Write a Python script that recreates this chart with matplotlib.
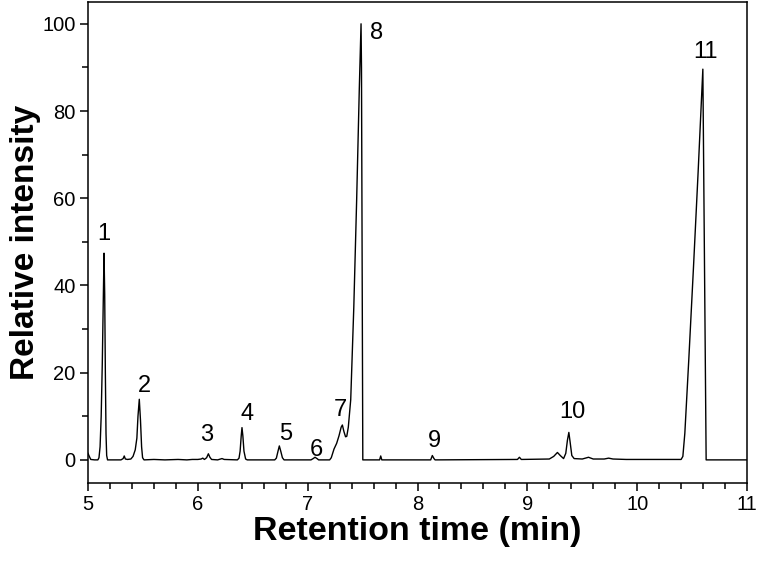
import matplotlib
matplotlib.use("Agg")
import matplotlib.pyplot as plt
from matplotlib.ticker import MultipleLocator

plt.rcParams['font.family'] = ['Liberation Sans', 'DejaVu Sans']

# Chromatogram trace (retention time in min, relative intensity)
time_min = [
    5.00, 5.01, 5.025, 5.06, 5.09, 5.10, 5.11, 5.12, 5.13, 5.14, 5.146, 5.152, 5.158, 5.164, 5.170, 5.178,
    5.30, 5.32, 5.33, 5.34, 5.36, 5.39, 5.41, 5.43, 5.445, 5.455, 5.467, 5.478, 5.488, 5.497, 5.51,
    5.60, 5.70, 5.82, 5.90, 5.95, 6.00, 6.03, 6.045, 6.06, 6.08, 6.096, 6.11, 6.125, 6.18, 6.22, 6.24,
    6.36, 6.375, 6.385, 6.395, 6.402, 6.41, 6.42, 6.435, 6.45,
    6.70, 6.715, 6.73, 6.742, 6.755, 6.77, 6.785,
    7.03, 7.05, 7.067, 7.085, 7.10,
    7.20, 7.215, 7.24, 7.264, 7.285, 7.305, 7.316, 7.33, 7.345, 7.356, 7.37, 7.392, 7.42, 7.446, 7.47,
    7.486, 7.49, 7.502,
    7.655, 7.665, 7.675, 8.12, 8.135, 8.15, 8.16,
    8.91, 8.928, 8.945, 9.20, 9.24, 9.274, 9.30, 9.33, 9.35, 9.365, 9.378, 9.39, 9.405, 9.426,
    9.50, 9.557, 9.60, 9.70, 9.74, 9.78, 9.90,
    10.40, 10.416, 10.434, 10.47, 10.513, 10.555, 10.598, 10.628, 11.0,
]
intensity = [
    1.5, 0.9, 0.1, 0.0, 0.0, 0.5, 3.0, 10.0, 22.0, 38.0, 47.4, 38.0, 20.0, 6.0, 1.0, 0.0,
    0.0, 0.3, 0.9, 0.2, 0.1, 0.2, 0.8, 2.3, 5.0, 10.0, 13.9, 9.0, 3.0, 0.5, 0.0,
    0.1, 0.0, 0.1, 0.0, 0.1, 0.1, 0.2, 0.4, 0.1, 0.5, 1.4, 0.6, 0.1, 0.0, 0.3, 0.1,
    0.0, 0.4, 2.0, 5.5, 7.4, 5.5, 2.0, 0.2, 0.0,
    0.0, 0.4, 2.0, 3.2, 2.0, 0.5, 0.0,
    0.0, 0.3, 0.6, 0.3, 0.0,
    0.0, 0.5, 2.5, 3.8, 5.5, 7.5, 8.0, 6.5, 5.3, 5.4, 7.5, 13.8, 35.0, 59.6, 85.0,
    100.0, 90.0, 0.0,
    0.0, 0.9, 0.0, 0.0, 1.0, 0.3, 0.0,
    0.1, 0.6, 0.1, 0.2, 0.8, 1.7, 1.0, 0.3, 1.5, 4.5, 6.3, 4.0, 1.0, 0.3,
    0.2, 0.6, 0.2, 0.2, 0.4, 0.2, 0.1,
    0.1, 0.8, 6.1, 23.0, 44.3, 66.0, 89.6, 0.0, 0.0,
]

# Peak labels and their positions
peak_labels = ["1", "2", "3", "4", "5", "6", "7", "8", "9", "10", "11"]
label_x = [5.146, 5.51, 6.08, 6.45, 6.80, 7.08, 7.30, 7.63, 8.15, 9.41, 10.62]
label_y = [51.8, 17.0, 5.7, 10.6, 6.0, 2.3, 11.5, 97.9, 4.4, 11.0, 93.6]

fig = plt.figure(figsize=(7.57, 5.61), dpi=100)
ax = fig.add_axes([88/757, 78/561, (747-88)/757, (559-78)/561])

ax.plot(time_min, intensity, color='black', lw=1.0)

for lab, lx, ly in zip(peak_labels, label_x, label_y):
    ax.text(lx, ly, lab, fontsize=17, ha='center', va='center')

ax.set_xlim(5, 11)
ax.set_ylim(-5.3, 105)
ax.xaxis.set_major_locator(MultipleLocator(1))
ax.xaxis.set_minor_locator(MultipleLocator(0.2))
ax.yaxis.set_major_locator(MultipleLocator(20))
ax.yaxis.set_minor_locator(MultipleLocator(10))
ax.set_yticks([0, 20, 40, 60, 80, 100])

ax.tick_params(which='both', direction='out', width=1.1, labelsize=14.5, pad=3)
ax.tick_params(which='major', length=6)
ax.tick_params(which='minor', length=4)
for s in ax.spines.values():
    s.set_linewidth(1.1)

ax.set_xlabel("Retention time (min)", fontsize=24.5, fontweight='bold', labelpad=1)
ax.set_ylabel("Relative intensity", fontsize=24, fontweight='bold', labelpad=1)

fig.savefig("out.png", dpi=100)
